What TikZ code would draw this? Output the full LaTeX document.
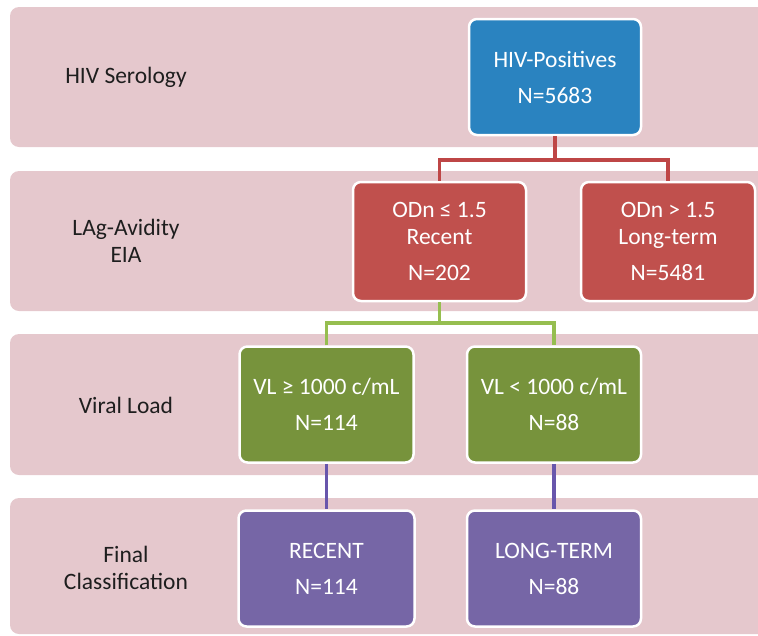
\documentclass[tikz,border=0pt]{standalone}
\usepackage{fontspec}
\setmainfont{Carlito}
\definecolor{band}{RGB}{229,200,205}
\definecolor{cblue}{RGB}{42,131,192}
\definecolor{cred}{RGB}{192,80,77}
\definecolor{cgreen}{RGB}{119,147,60}
\definecolor{cpurple}{RGB}{118,102,166}
\definecolor{lred}{RGB}{190,70,70}
\definecolor{lgreen}{RGB}{150,190,80}
\definecolor{lpurple}{RGB}{104,86,172}
\definecolor{labeltext}{RGB}{30,30,30}
\begin{document}
\begin{tikzpicture}[x=1pt,y=-1pt,
  bandbox/.style={fill=band,rounded corners=9pt},
  box/.style={draw=white,line width=2.5pt,rounded corners=8pt,text=white,
    minimum width=172pt,minimum height=116pt,align=center,
    font=\fontsize{23.5}{27}\selectfont,inner sep=0pt},
  lab/.style={text=labeltext,align=center,font=\fontsize{23.5}{27}\selectfont},
  conn/.style={line width=3.5pt}]
\useasboundingbox (0,0) rectangle (758,635);
\clip (0,0) rectangle (758,635);
% bands
\fill[bandbox] (10,7) rectangle (790,147);
\fill[bandbox] (10,171) rectangle (790,311);
\fill[bandbox] (10,334) rectangle (790,475);
\fill[bandbox] (10,498) rectangle (790,634);
% labels
\node[lab] (l1) at (126,77) {HIV Serology};
\node[lab] (l2) at (126,241) {LAg-Avidity\\EIA};
\node[lab] (l3) at (126,405) {Viral Load};
\node[lab] (l4) at (126,568) {Final\\Classification};
% boxes
\node[box,fill=cblue] (hiv) at (555,77) {HIV-Positives\\[9pt]N=5683};
\node[box,fill=cred,minimum height=119pt,minimum width=173pt] (r1) at (439.5,241.5) {ODn ≤ 1.5\\Recent\\[9pt]N=202};
\node[box,fill=cred,minimum height=119pt,minimum width=174pt] (r2) at (668,241.5) {ODn > 1.5\\Long-term\\[9pt]N=5481};
\node[box,fill=cgreen,minimum width=174pt] (g1) at (326.5,404.5) {VL ≥ 1000 c/mL\\[9pt]N=114};
\node[box,fill=cgreen,minimum width=174pt] (g2) at (554,404.5) {VL < 1000 c/mL\\[9pt]N=88};
\node[box,fill=cpurple,minimum width=176pt] (p1) at (326.5,568.5) {RECENT\\[9pt]N=114};
\node[box,fill=cpurple,minimum width=174pt] (p2) at (554,568.5) {LONG-TERM\\[9pt]N=88};
% connectors
\coordinate (rj) at (555,160);
\draw[conn,draw=lred] (hiv.south) -- (rj);
\draw[conn,draw=lred] (r1.north) |- (rj) -| (r2.north);
\coordinate (gj) at (439.5,323);
\draw[conn,draw=lgreen] (r1.south) -- (gj);
\draw[conn,draw=lgreen] (g1.north) |- (gj) -| (g2.north);
\draw[conn,draw=lpurple] (g1.south) -- (p1.north);
\draw[conn,draw=lpurple] (g2.south) -- (p2.north);
\end{tikzpicture}
\end{document}
